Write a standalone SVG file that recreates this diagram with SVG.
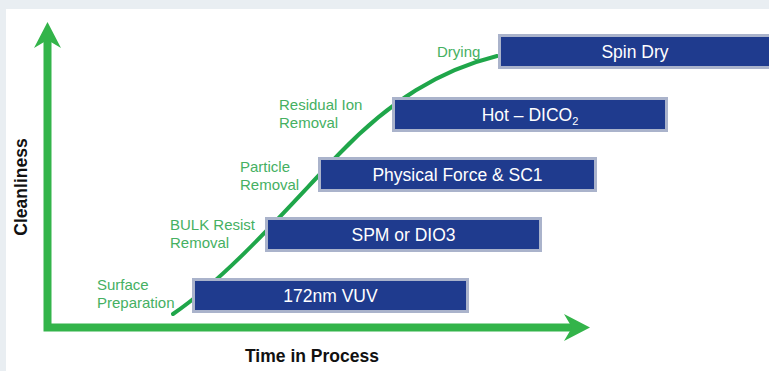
<svg xmlns="http://www.w3.org/2000/svg" width="769" height="371" viewBox="0 0 769 371">
  <style>
    .box { fill: #1f3b8e; stroke: #aab3cb; stroke-width: 3; }
    .btxt { fill: #ffffff; font-family: "Liberation Sans", Arial, sans-serif; font-size: 17.5px; text-anchor: middle; }
    .lbl { fill: #45b062; font-family: "Liberation Sans", Arial, sans-serif; font-size: 15px; }
    .axis { fill: none; stroke: #33b44a; stroke-width: 8; stroke-linejoin: miter; }
    .head { fill: #33b44a; }
    .curve { fill: none; stroke: #1fa64a; stroke-width: 4; stroke-linecap: round; }
    .title { fill: #111111; font-family: "Liberation Sans", Arial, sans-serif; font-size: 17.5px; font-weight: bold; }
  </style>
  <rect x="0" y="0" width="769" height="371" fill="#e9eef2"/>
  <rect x="6" y="9" width="763" height="362" fill="#ffffff"/>

  <g id="connectors">
    <path class="axis" d="M47.5,40 V327.5 H574"/>
    <polygon class="head" points="47.5,22 61,48 47.5,40 34,48"/>
    <polygon class="head" points="590,327.5 564,314 572,327.5 564,341"/>
    <path class="curve" d="M173,314 C230,275 290,205 340,153 S440,70 497,56"/>
  </g>

  <g id="axis-labels">
    <text class="title" x="245" y="362">Time in Process</text>
    <text class="title" transform="translate(27,187) rotate(-90)" text-anchor="middle">Cleanliness</text>
  </g>

  <g id="node-vuv">
    <rect class="box" x="193.5" y="279.5" width="274" height="32"/>
    <text class="btxt" x="330.5" y="301.5">172nm VUV</text>
    <text class="lbl" x="97" y="290">Surface</text>
    <text class="lbl" x="97" y="308">Preparation</text>
  </g>

  <g id="node-spm">
    <rect class="box" x="266.5" y="218.5" width="274" height="32"/>
    <text class="btxt" x="403.5" y="240.5">SPM or DIO3</text>
    <text class="lbl" x="170" y="230">BULK Resist</text>
    <text class="lbl" x="170" y="248">Removal</text>
  </g>

  <g id="node-physical">
    <rect class="box" x="319.5" y="158.5" width="276" height="32"/>
    <text class="btxt" x="457.5" y="180.5">Physical Force &amp; SC1</text>
    <text class="lbl" x="240" y="172">Particle</text>
    <text class="lbl" x="240" y="190">Removal</text>
  </g>

  <g id="node-hot">
    <rect class="box" x="393.5" y="98.5" width="273" height="32"/>
    <text class="btxt" x="530" y="120.5">Hot – DICO<tspan font-size="11" dy="4">2</tspan></text>
    <text class="lbl" x="279" y="110">Residual Ion</text>
    <text class="lbl" x="279" y="128">Removal</text>
  </g>

  <g id="node-spin">
    <rect class="box" x="499.5" y="35.5" width="274" height="32"/>
    <text class="btxt" x="635" y="57.5">Spin Dry</text>
    <text class="lbl" x="437" y="57">Drying</text>
  </g>
</svg>
